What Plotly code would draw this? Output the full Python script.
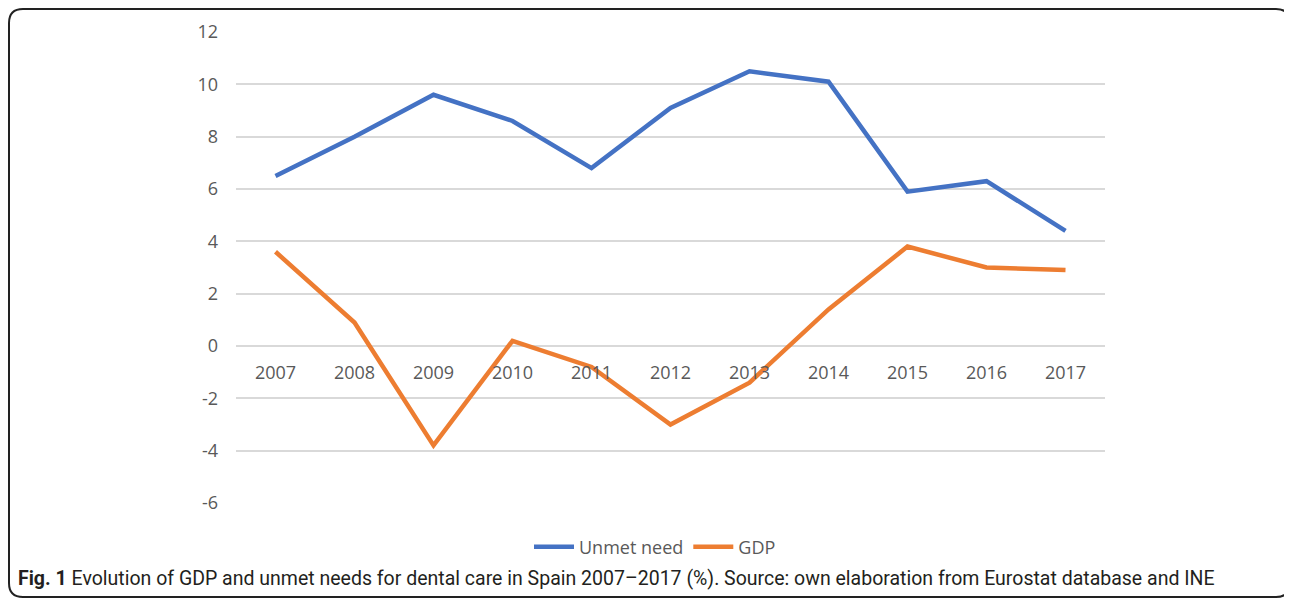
import plotly.graph_objects as go

years = ["2007", "2008", "2009", "2010", "2011", "2012", "2013", "2014", "2015", "2016", "2017"]
unmet_need = [6.5, 8.0, 9.6, 8.6, 6.8, 9.1, 10.5, 10.1, 5.9, 6.3, 4.4]
gdp = [3.6, 0.9, -3.8, 0.2, -0.8, -3.0, -1.4, 1.4, 3.8, 3.0, 2.9]
y_ticks = [-6, -4, -2, 0, 2, 4, 6, 8, 10, 12]
y_tick_text = ["-6", "-4", "-2", "0", "2", "4", "6", "8", "10", "12"]

# page body has an 8px margin, so the figure is drawn 8px in from the window
OFF = 8
W, H = 1292 - OFF, 599 - OFF
L, R, T, B = 236 - OFF, 1105 - OFF, 32 - OFF, 503 - OFF

def px(x):  # window pixel -> paper
    return (x - OFF - L) / (R - L)

def py(y):
    return (B - (y - OFF)) / (B - T)

fig = go.Figure()
fig.add_trace(go.Scatter(x=years, y=unmet_need, mode="lines", name="Unmet need",
                         line=dict(color="#4472C4", width=4.5)))
fig.add_trace(go.Scatter(x=years, y=gdp, mode="lines", name="GDP",
                         line=dict(color="#ED7D31", width=4.5)))

# rounded border (window pixel coordinates)
x0, x1, y0, y1, r = 9, 1290, 9, 597, 14
path = (f"M {px(x0 + r)} {py(y0)} L {px(x1 - r)} {py(y0)} "
        f"Q {px(x1)} {py(y0)} {px(x1)} {py(y0 + r)} "
        f"L {px(x1)} {py(y1 - r)} Q {px(x1)} {py(y1)} {px(x1 - r)} {py(y1)} "
        f"L {px(x0 + r)} {py(y1)} Q {px(x0)} {py(y1)} {px(x0)} {py(y1 - r)} "
        f"L {px(x0)} {py(y0 + r)} Q {px(x0)} {py(y0)} {px(x0 + r)} {py(y0)} Z")

fig.update_layout(
    width=W, height=H,
    margin=dict(l=L, r=W - R, t=T, b=H - B, autoexpand=False),
    paper_bgcolor="white", plot_bgcolor="white",
    font=dict(family="Open Sans", size=18, color="#595959"),
    xaxis=dict(type="category", range=[-0.5, 10.5], showgrid=False, showline=False,
               zeroline=False, anchor="free", position=6 / 18, ticks="",
               ticklabelstandoff=14,
               tickfont=dict(size=18, color="#595959")),
    yaxis=dict(range=[-6, 12], tickvals=y_ticks, ticktext=y_tick_text,
               showgrid=True, gridcolor="#d9d9d9",
               gridwidth=1.5, zeroline=False, showline=False, ticks="",
               ticklabelstandoff=17, tickfont=dict(size=18, color="#595959")),
    legend=dict(orientation="h", xref="container", yref="container",
                x=(655 - OFF) / W, y=1 - (547 - OFF) / H, xanchor="center", yanchor="middle",
                font=dict(size=18, color="#595959"), itemwidth=40, tracegroupgap=0),
    showlegend=True,
    shapes=[dict(type="path", xref="paper", yref="paper", path=path,
                 line=dict(color="#222222", width=2), fillcolor="rgba(0,0,0,0)")],
    annotations=[dict(xref="paper", yref="paper", x=px(16), y=py(578),
                      xanchor="left", yanchor="middle", showarrow=False,
                      text="<b>Fig. 1</b> Evolution of GDP and unmet needs for dental care in Spain 2007–2017 (%). Source: own elaboration from Eurostat database and INE",
                      font=dict(family="Roboto", size=19.5, color="#231f20"))],
)

fig.write_html("out.html")
